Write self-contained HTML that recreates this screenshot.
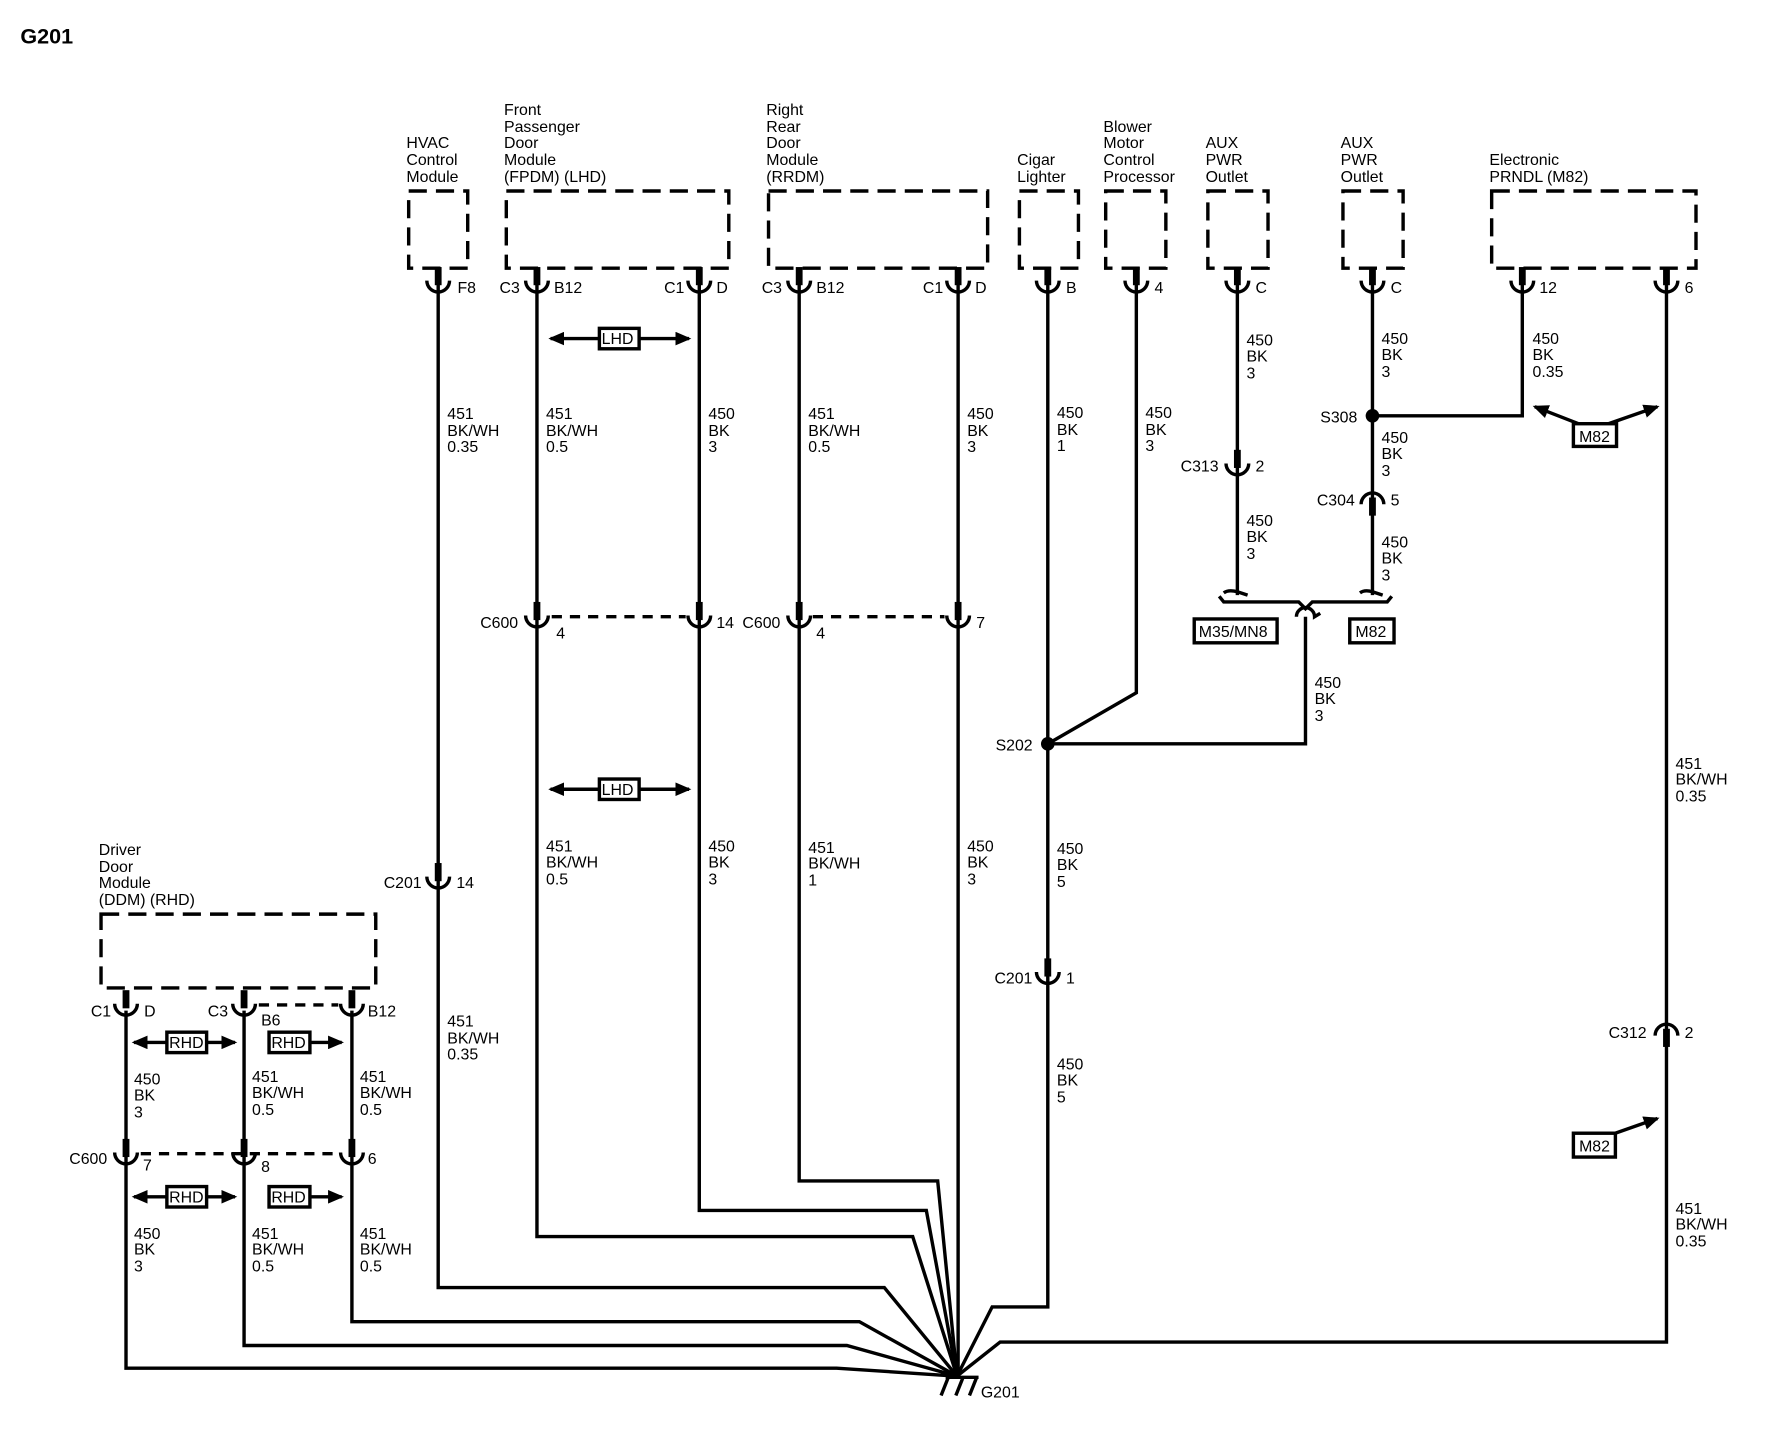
<!DOCTYPE html>
<html><head><meta charset="utf-8"><style>
html,body{margin:0;padding:0;background:#fff;}
svg{display:block;}
text{font-family:"Liberation Sans",Arial,sans-serif;font-size:14px;fill:#000;}
</style></head><body>
<svg width="1780" height="1440" viewBox="0 0 1568 1268" xmlns="http://www.w3.org/2000/svg">
<defs>
<g id="f"><rect x="-3" y="-12" width="6" height="16" fill="#000"/><path d="M-10,0 A10,10 0 0 0 10,0" fill="none" stroke="#000" stroke-width="3"/></g>
<g id="m"><rect x="-3" y="-2" width="6" height="16" fill="#000"/><path d="M-10,4 A10,10 0 0 1 10,4" fill="none" stroke="#000" stroke-width="3"/></g>
<marker id="ah" markerWidth="8" markerHeight="8" refX="6" refY="4" orient="auto" markerUnits="userSpaceOnUse"><path d="M0,0 L8,4 L0,8 Z" fill="#000"/></marker>
<marker id="ah2" markerWidth="14" markerHeight="12" refX="12" refY="6" orient="auto" markerUnits="userSpaceOnUse"><path d="M0,0 L14,6 L0,12 Z" fill="#000"/></marker>
</defs>
<rect width="1568" height="1268" fill="#fff"/>
<text x="18" y="38" style="font-size:19px;font-weight:bold">G201</text>

<!-- module boxes -->
<g fill="none" stroke="#000" stroke-width="3" stroke-dasharray="16,8">
<rect x="360" y="168" width="52" height="68"/>
<rect x="446" y="168" width="196" height="68"/>
<rect x="677" y="168" width="193" height="68"/>
<rect x="898" y="168" width="52" height="68"/>
<rect x="974" y="168" width="53" height="68"/>
<rect x="1064" y="168" width="53" height="68"/>
<rect x="1183" y="168" width="53" height="68"/>
<rect x="1314" y="168" width="180" height="68"/>
<rect x="89" y="805" width="242" height="65"/>
</g>

<!-- module labels -->
<g>
<text x="358" y="130">HVAC</text><text x="358" y="145">Control</text><text x="358" y="160">Module</text>
<text x="444" y="101">Front</text><text x="444" y="116">Passenger</text><text x="444" y="130">Door</text><text x="444" y="145">Module</text><text x="444" y="160">(FPDM) (LHD)</text>
<text x="675" y="101">Right</text><text x="675" y="116">Rear</text><text x="675" y="130">Door</text><text x="675" y="145">Module</text><text x="675" y="160">(RRDM)</text>
<text x="896" y="145">Cigar</text><text x="896" y="160">Lighter</text>
<text x="972" y="116">Blower</text><text x="972" y="130">Motor</text><text x="972" y="145">Control</text><text x="972" y="160">Processor</text>
<text x="1062" y="130">AUX</text><text x="1062" y="145">PWR</text><text x="1062" y="160">Outlet</text>
<text x="1181" y="130">AUX</text><text x="1181" y="145">PWR</text><text x="1181" y="160">Outlet</text>
<text x="1312" y="145">Electronic</text><text x="1312" y="160">PRNDL (M82)</text>
<text x="87" y="753">Driver</text><text x="87" y="768">Door</text><text x="87" y="782">Module</text><text x="87" y="797">(DDM) (RHD)</text>
</g>

<!-- wires -->
<g fill="none" stroke="#000" stroke-width="3" stroke-linejoin="miter">
<polyline points="386,250 386,1134 779,1134 843,1212"/>
<polyline points="473,250 473,1089 804,1089 843,1212"/>
<polyline points="616,250 616,1066 816,1066 843,1212"/>
<polyline points="704,250 704,1040 826,1040 843,1212"/>
<polyline points="844,250 844,1212"/>
<polyline points="923,250 923,1151 874,1151 843,1212"/>
<polyline points="1001,250 1001,610 923,655"/>
<polyline points="923,655 1150,655 1150,543"/>
<path d="M1142,543 A8,8 0 0 1 1158,543 L1163,540"/>
<polyline points="1090,250 1090,524"/>
<polyline points="1209,250 1209,524"/>
<polyline points="1209,366 1341,366 1341,250"/>
<polyline points="1468,250 1468,1182 881,1182 843,1212"/>
<polyline points="310,890 310,1164 757,1164 843,1212"/>
<polyline points="215,890 215,1185 746,1185 843,1212"/>
<polyline points="111,890 111,1205 737,1205 843,1212"/>
<!-- hooks -->
<path d="M1078,522 Q1082,519 1090,521 L1099,524"/>
<path d="M1198,522 Q1202,519 1209,521 L1218,524"/>
<!-- brace -->
<path d="M1074,525 L1078,530 L1144,530 L1150,536 L1156,530 L1222,530 L1226,525"/>
<!-- ground -->
<line x1="833" y1="1213" x2="862" y2="1213"/>
<line x1="835" y1="1214" x2="829" y2="1229"/>
<line x1="848" y1="1214" x2="842" y2="1229"/>
<line x1="860" y1="1214" x2="854" y2="1229"/>
</g>
<circle cx="1209" cy="366" r="6" fill="#000"/>
<circle cx="923" cy="655" r="6" fill="#000"/>

<!-- dashed connector lines -->
<g stroke="#000" stroke-width="3" stroke-dasharray="9,7" fill="none">
<line x1="486" y1="543" x2="604" y2="543"/>
<line x1="716" y1="543" x2="832" y2="543"/>
<line x1="228" y1="885" x2="298" y2="885"/>
<line x1="124" y1="1016" x2="298" y2="1016"/>
</g>

<!-- connector symbols -->
<g>
<use href="#f" x="386" y="247"/><use href="#f" x="473" y="247"/><use href="#f" x="616" y="247"/>
<use href="#f" x="704" y="247"/><use href="#f" x="844" y="247"/><use href="#f" x="923" y="247"/>
<use href="#f" x="1001" y="247"/><use href="#f" x="1090" y="247"/><use href="#f" x="1209" y="247"/>
<use href="#f" x="1341" y="247"/><use href="#f" x="1468" y="247"/>
<use href="#f" x="473" y="542"/><use href="#f" x="616" y="542"/><use href="#f" x="704" y="542"/><use href="#f" x="844" y="542"/>
<use href="#f" x="1090" y="408"/><use href="#f" x="386" y="772"/><use href="#f" x="923" y="856"/>
<use href="#f" x="111" y="884"/><use href="#f" x="215" y="884"/><use href="#f" x="310" y="884"/>
<use href="#f" x="111" y="1015"/><use href="#f" x="215" y="1015"/><use href="#f" x="310" y="1015"/>
<use href="#m" x="1209" y="440"/><use href="#m" x="1468" y="908"/>
</g>

<!-- pin labels -->
<g>
<text x="403" y="258">F8</text>
<text x="440" y="258">C3</text><text x="488" y="258">B12</text>
<text x="585" y="258">C1</text><text x="631" y="258">D</text>
<text x="671" y="258">C3</text><text x="719" y="258">B12</text>
<text x="813" y="258">C1</text><text x="859" y="258">D</text>
<text x="939" y="258">B</text><text x="1017" y="258">4</text>
<text x="1106" y="258">C</text><text x="1225" y="258">C</text>
<text x="1356" y="258">12</text><text x="1484" y="258">6</text>
<text x="423" y="553">C600</text><text x="490" y="562">4</text><text x="631" y="553">14</text>
<text x="654" y="553">C600</text><text x="719" y="562">4</text><text x="860" y="553">7</text>
<text x="1040" y="415">C313</text><text x="1106" y="415">2</text>
<text x="1163" y="372">S308</text>
<text x="1160" y="445">C304</text><text x="1225" y="445">5</text>
<text x="877" y="661">S202</text>
<text x="338" y="782">C201</text><text x="402" y="782">14</text>
<text x="876" y="866">C201</text><text x="939" y="866">1</text>
<text x="1417" y="914">C312</text><text x="1484" y="914">2</text>
<text x="80" y="895">C1</text><text x="127" y="895">D</text>
<text x="183" y="895">C3</text><text x="230" y="903">B6</text>
<text x="324" y="895">B12</text>
<text x="61" y="1025">C600</text><text x="126" y="1031">7</text><text x="230" y="1032">8</text><text x="324" y="1025">6</text>
<text x="864" y="1231">G201</text>
</g>

<!-- wire labels -->
<g>
<text x="394" y="369">451</text><text x="394" y="384">BK/WH</text><text x="394" y="398">0.35</text>
<text x="481" y="369">451</text><text x="481" y="384">BK/WH</text><text x="481" y="398">0.5</text>
<text x="624" y="369">450</text><text x="624" y="384">BK</text><text x="624" y="398">3</text>
<text x="712" y="369">451</text><text x="712" y="384">BK/WH</text><text x="712" y="398">0.5</text>
<text x="852" y="369">450</text><text x="852" y="384">BK</text><text x="852" y="398">3</text>
<text x="931" y="368">450</text><text x="931" y="383">BK</text><text x="931" y="397">1</text>
<text x="1009" y="368">450</text><text x="1009" y="383">BK</text><text x="1009" y="397">3</text>
<text x="1098" y="304">450</text><text x="1098" y="318">BK</text><text x="1098" y="333">3</text>
<text x="1217" y="303">450</text><text x="1217" y="317">BK</text><text x="1217" y="332">3</text>
<text x="1350" y="303">450</text><text x="1350" y="317">BK</text><text x="1350" y="332">0.35</text>
<text x="1217" y="390">450</text><text x="1217" y="404">BK</text><text x="1217" y="419">3</text>
<text x="1098" y="463">450</text><text x="1098" y="477">BK</text><text x="1098" y="492">3</text>
<text x="1217" y="482">450</text><text x="1217" y="496">BK</text><text x="1217" y="511">3</text>
<text x="1158" y="606">450</text><text x="1158" y="620">BK</text><text x="1158" y="635">3</text>
<text x="481" y="750">451</text><text x="481" y="764">BK/WH</text><text x="481" y="779">0.5</text>
<text x="624" y="750">450</text><text x="624" y="764">BK</text><text x="624" y="779">3</text>
<text x="712" y="751">451</text><text x="712" y="765">BK/WH</text><text x="712" y="780">1</text>
<text x="852" y="750">450</text><text x="852" y="764">BK</text><text x="852" y="779">3</text>
<text x="931" y="752">450</text><text x="931" y="766">BK</text><text x="931" y="781">5</text>
<text x="931" y="942">450</text><text x="931" y="956">BK</text><text x="931" y="971">5</text>
<text x="394" y="904">451</text><text x="394" y="919">BK/WH</text><text x="394" y="933">0.35</text>
<text x="1476" y="677">451</text><text x="1476" y="691">BK/WH</text><text x="1476" y="706">0.35</text>
<text x="1476" y="1069">451</text><text x="1476" y="1083">BK/WH</text><text x="1476" y="1098">0.35</text>
<text x="118" y="955">450</text><text x="118" y="969">BK</text><text x="118" y="984">3</text>
<text x="222" y="953">451</text><text x="222" y="967">BK/WH</text><text x="222" y="982">0.5</text>
<text x="317" y="953">451</text><text x="317" y="967">BK/WH</text><text x="317" y="982">0.5</text>
<text x="118" y="1091">450</text><text x="118" y="1105">BK</text><text x="118" y="1120">3</text>
<text x="222" y="1091">451</text><text x="222" y="1105">BK/WH</text><text x="222" y="1120">0.5</text>
<text x="317" y="1091">451</text><text x="317" y="1105">BK/WH</text><text x="317" y="1120">0.5</text>
</g>

<!-- option arrows / boxes -->
<g stroke="#000" stroke-width="3" fill="none">
<line x1="528" y1="298" x2="485" y2="298" marker-end="url(#ah2)"/>
<line x1="563" y1="298" x2="607" y2="298" marker-end="url(#ah2)"/>
<rect x="528" y="289" width="35" height="18" fill="#fff"/>
<line x1="528" y1="695" x2="485" y2="695" marker-end="url(#ah2)"/>
<line x1="563" y1="695" x2="607" y2="695" marker-end="url(#ah2)"/>
<rect x="528" y="686" width="35" height="18" fill="#fff"/>
<line x1="147" y1="918" x2="118" y2="918" marker-end="url(#ah2)"/>
<line x1="182" y1="918" x2="207" y2="918" marker-end="url(#ah2)"/>
<rect x="147" y="909" width="35" height="18" fill="#fff"/>
<line x1="273" y1="918" x2="301" y2="918" marker-end="url(#ah2)"/>
<rect x="237" y="909" width="36" height="18" fill="#fff"/>
<line x1="147" y1="1054" x2="118" y2="1054" marker-end="url(#ah2)"/>
<line x1="182" y1="1054" x2="207" y2="1054" marker-end="url(#ah2)"/>
<rect x="147" y="1045" width="35" height="18" fill="#fff"/>
<line x1="273" y1="1054" x2="301" y2="1054" marker-end="url(#ah2)"/>
<rect x="237" y="1045" width="36" height="18" fill="#fff"/>
<line x1="1393" y1="374" x2="1352" y2="358" marker-end="url(#ah2)"/>
<line x1="1414" y1="374" x2="1460" y2="358" marker-end="url(#ah2)"/>
<rect x="1386" y="373" width="38" height="20" fill="#fff"/>
<line x1="1420" y1="999" x2="1460" y2="985" marker-end="url(#ah2)"/>
<rect x="1386" y="998" width="37" height="21" fill="#fff"/>
<rect x="1052" y="545" width="73" height="21" fill="#fff"/>
<rect x="1189" y="545" width="39" height="21" fill="#fff"/>
</g>
<g>
<text x="530" y="303">LHD</text><text x="530" y="700">LHD</text>
<text x="149" y="923">RHD</text><text x="239" y="923">RHD</text>
<text x="149" y="1059">RHD</text><text x="239" y="1059">RHD</text>
<text x="1391" y="389">M82</text><text x="1391" y="1014">M82</text>
<text x="1056" y="561">M35/MN8</text><text x="1194" y="561">M82</text>
</g>
</svg>
</body></html>
